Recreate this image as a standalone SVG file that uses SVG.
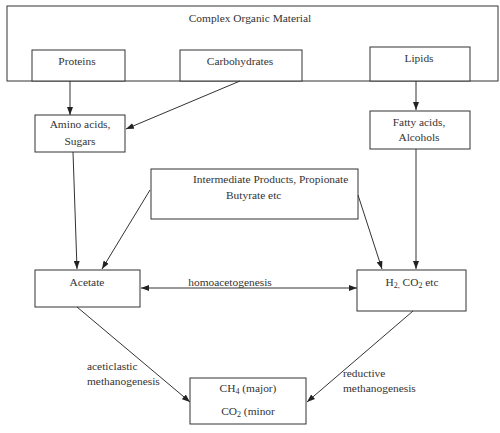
<svg xmlns="http://www.w3.org/2000/svg" width="500" height="433" viewBox="0 0 500 433">
<defs>
<marker id="ah" viewBox="0 0 8 6" refX="8" refY="3" markerWidth="8" markerHeight="6" markerUnits="userSpaceOnUse" orient="auto-start-reverse">
<path d="M0,0 L8,3 L0,6 Z" fill="#222"/>
</marker>
<style>
.box{fill:#fff;stroke:#333;stroke-width:1}
.t{font-family:"Liberation Serif","Times New Roman",serif;font-size:11.4px;fill:#333}
.c{text-anchor:middle}
.ln{stroke:#333;stroke-width:1;fill:none}
.ar{marker-end:url(#ah)}
.sub{font-size:8px}
</style>
</defs>
<rect width="500" height="433" fill="#fff"/>
<g id="complex">
<rect class="box" x="7" y="6" width="491" height="75"/>
<text class="t c" x="250" y="22">Complex Organic Material</text>
</g>
<g id="proteins">
<rect class="box" x="32" y="50" width="93" height="31"/>
<text class="t c" x="77" y="65">Proteins</text>
</g>
<g id="carbohydrates">
<rect class="box" x="180" y="50" width="122" height="31"/>
<text class="t c" x="240" y="65">Carbohydrates</text>
</g>
<g id="lipids">
<rect class="box" x="370" y="47" width="100" height="34"/>
<text class="t c" x="419" y="62">Lipids</text>
</g>
<g id="amino">
<rect class="box" x="35" y="115" width="90" height="37"/>
<text class="t c" x="80" y="128">Amino acids,</text>
<text class="t c" x="80" y="145">Sugars</text>
</g>
<g id="fatty">
<rect class="box" x="370" y="111" width="100" height="38"/>
<text class="t c" x="419" y="126">Fatty acids,</text>
<text class="t c" x="419" y="141">Alcohols</text>
</g>
<g id="intermediate">
<rect class="box" x="151" y="169" width="207" height="50"/>
<text class="t" x="193" y="183">Intermediate Products, Propionate</text>
<text class="t" x="226" y="199">Butyrate etc</text>
</g>
<g id="acetate">
<rect class="box" x="35" y="270" width="105" height="37"/>
<text class="t c" x="87" y="286">Acetate</text>
</g>
<g id="h2co2">
<rect class="box" x="357" y="270" width="109" height="41"/>
<text class="t c" x="412" y="286">H<tspan class="sub" dy="2">2,</tspan><tspan dy="-2"> CO</tspan><tspan class="sub" dy="2">2</tspan><tspan dy="-2"> etc</tspan></text>
</g>
<g id="methane">
<rect class="box" x="190" y="378" width="116" height="46"/>
<text class="t c" x="248" y="392">CH<tspan class="sub" dy="2">4</tspan><tspan dy="-2"> (major)</tspan></text>
<text class="t c" x="248" y="415">CO<tspan class="sub" dy="2">2</tspan><tspan dy="-2"> (minor</tspan></text>
</g>
<g id="connectors">
<line class="ln ar" x1="70" y1="81" x2="70" y2="115"/>
<line class="ln ar" x1="240" y1="81" x2="126" y2="129"/>
<line class="ln ar" x1="416" y1="81" x2="416" y2="110"/>
<line class="ln ar" x1="73" y1="152" x2="77" y2="269"/>
<line class="ln ar" x1="150" y1="190" x2="102" y2="269"/>
<line class="ln ar" x1="358" y1="195" x2="382" y2="269"/>
<line class="ln ar" x1="416" y1="149" x2="416" y2="269"/>
<line class="ln ar" x1="141" y1="288" x2="357" y2="288" style="marker-start:url(#ah)"/>
<line class="ln ar" x1="77" y1="307" x2="190" y2="402"/>
<line class="ln ar" x1="413" y1="311" x2="307" y2="402"/>
<text class="t c" x="230" y="286">homoacetogenesis</text>
<text class="t" x="87" y="370">aceticlastic</text>
<text class="t" x="87" y="385">methanogenesis</text>
<text class="t" x="343" y="377">reductive</text>
<text class="t" x="343" y="392">methanogenesis</text>
</g>
</svg>
